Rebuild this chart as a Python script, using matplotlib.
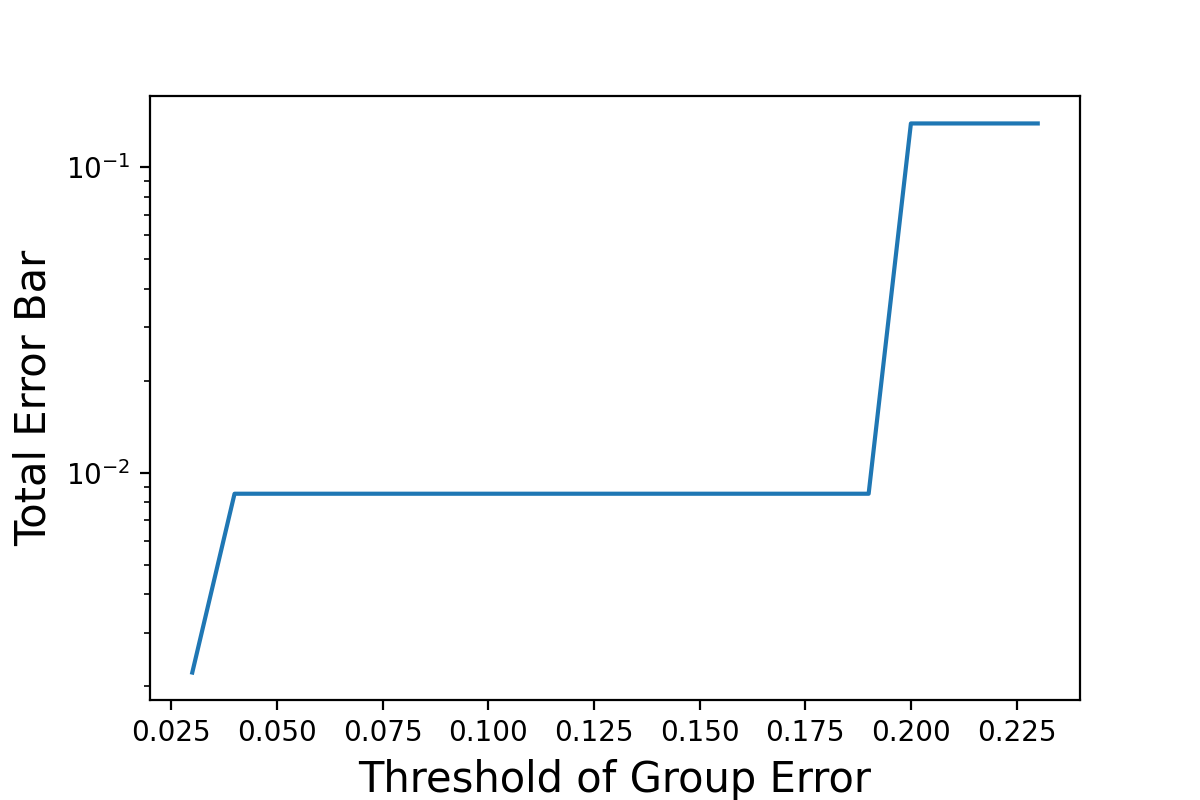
import numpy as np
import matplotlib
matplotlib.use('Agg')
import matplotlib.pyplot as plt

# umbrales y error total
umbral = [0.03, 0.04, 0.05, 0.06, 0.07, 0.08, 0.09, 0.10, 0.11, 0.12, 0.13,
          0.14, 0.15, 0.16, 0.17, 0.18, 0.19, 0.20, 0.21, 0.22, 0.23]
error_total = [0.00222, 0.00854, 0.00854, 0.00854, 0.00854, 0.00854, 0.00854,
               0.00854, 0.00854, 0.00854, 0.00854, 0.00854, 0.00854, 0.00854,
               0.00854, 0.00854, 0.00854, 0.139, 0.139, 0.139, 0.139]

plt.figure(figsize=(6, 4), dpi=200)
plt.subplots_adjust(left=0.125, right=0.9, bottom=0.125, top=0.88)
plt.plot(umbral, error_total)
plt.yscale('log')
plt.xlabel('Threshold of Group Error', fontsize=15)
plt.ylabel('Total Error Bar', fontsize=15)
plt.savefig('out.png', dpi=200)
